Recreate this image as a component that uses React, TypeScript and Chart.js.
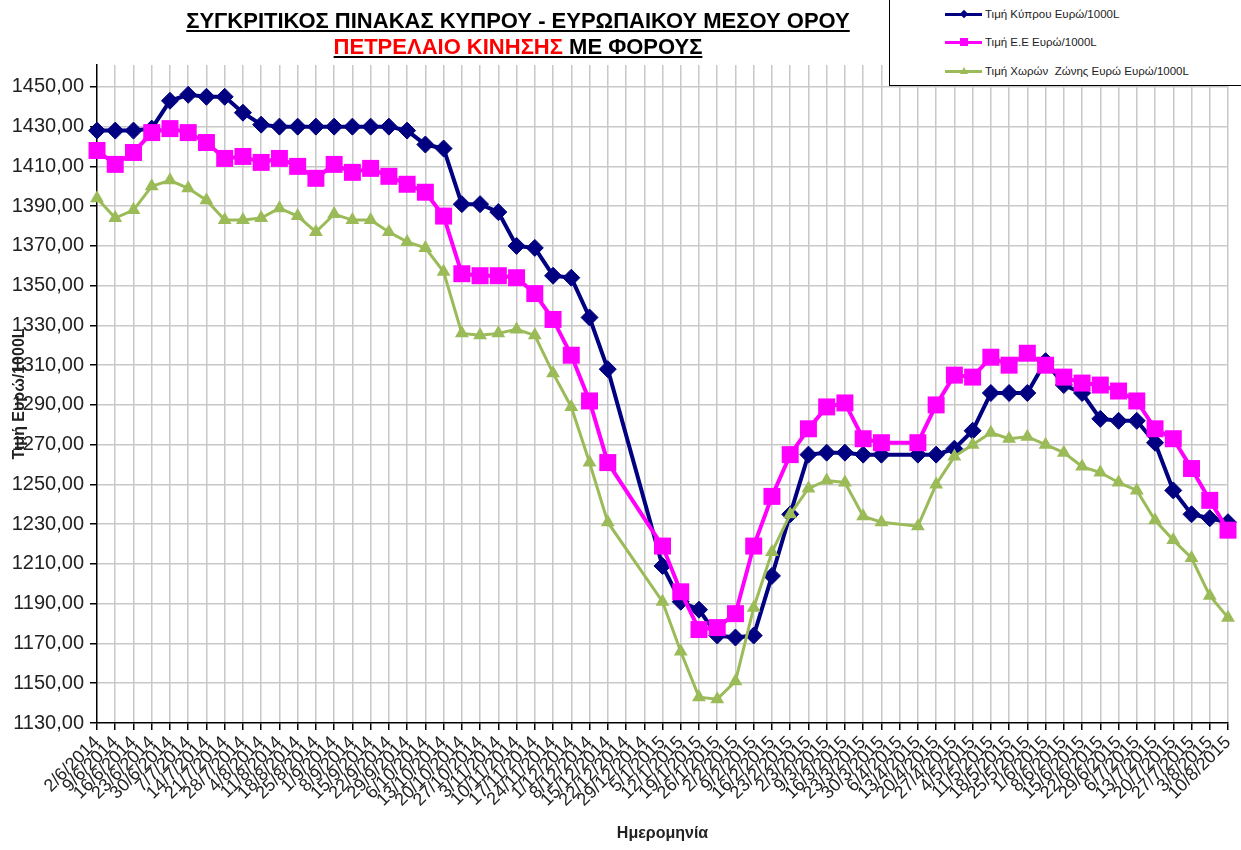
import React, { useEffect, useRef } from 'react';
import { Chart, registerables } from 'chart.js';

Chart.register(...registerables);

const dates = [
  '2/6/2014', '9/6/2014', '16/6/2014', '23/6/2014', '30/6/2014', '7/7/2014', '14/7/2014', '21/7/2014',
  '28/7/2014', '4/8/2014', '11/8/2014', '18/8/2014', '25/8/2014', '1/9/2014', '8/9/2014', '15/9/2014',
  '22/9/2014', '29/9/2014', '6/10/2014', '13/10/2014', '20/10/2014', '27/10/2014', '3/11/2014', '10/11/2014',
  '17/11/2014', '24/11/2014', '1/12/2014', '8/12/2014', '15/12/2014', '22/12/2014', '29/12/2014', '5/1/2015',
  '12/1/2015', '19/1/2015', '26/1/2015', '2/2/2015', '9/2/2015', '16/2/2015', '23/2/2015', '2/3/2015',
  '9/3/2015', '16/3/2015', '23/3/2015', '30/3/2015', '6/4/2015', '13/4/2015', '20/4/2015', '27/4/2015',
  '4/5/2015', '11/5/2015', '18/5/2015', '25/5/2015', '1/6/2015', '8/6/2015', '15/6/2015', '22/6/2015',
  '29/6/2015', '6/7/2015', '13/7/2015', '20/7/2015', '27/7/2015', '3/8/2015', '10/8/2015',
];

const cyprus = [
  1428, 1428, 1428, 1429, 1443, 1446, 1445, 1445,
  1437, 1431, 1430, 1430, 1430, 1430, 1430, 1430,
  1430, 1428, 1421, 1419, 1391, 1391, 1387, 1370,
  1369, 1355, 1354, 1334, 1308, null, null, 1209,
  1191, 1187, 1174, 1173, 1174, 1204, 1235, 1265,
  1266, 1266, 1265, 1265, null, 1265, 1265, 1268,
  1277, 1296, 1296, 1296, 1312, 1300, 1296, 1283,
  1282, 1282, 1271, 1247, 1235, 1233, 1231,
];

const eu = [
  1418, 1411, 1417, 1427, 1429, 1427, 1422, 1414,
  1415, 1412, 1414, 1410, 1404, 1411, 1407, 1409,
  1405, 1401, 1397, 1385, 1356, 1355, 1355, 1354,
  1346, 1333, 1315, 1292, 1261, null, null, 1219,
  1196, 1177, 1178, 1185, 1219, 1244, 1265, 1278,
  1289, 1291, 1273, 1271, null, 1271, 1290, 1305,
  1304, 1314, 1310, 1316, 1310, 1304, 1301, 1300,
  1297, 1292, 1278, 1273, 1258, 1242, 1227,
];

const euroZone = [
  1394, 1384, 1388, 1400, 1403, 1399, 1393, 1383,
  1383, 1384, 1389, 1385, 1377, 1386, 1383, 1383,
  1377, 1372, 1369, 1357, 1326, 1325, 1326, 1328,
  1325, 1306, 1289, 1261, 1231, null, null, 1191,
  1166, 1143, 1142, 1151, 1188, 1216, 1235, 1248,
  1252, 1251, 1234, 1231, null, 1229, 1250, 1264,
  1270, 1276, 1273, 1274, 1270, 1266, 1259, 1256,
  1251, 1247, 1232, 1222, 1213, 1194, 1183,
];

const yTicks = [1130, 1150, 1170, 1190, 1210, 1230, 1250, 1270, 1290, 1310, 1330, 1350, 1370, 1390, 1410, 1430, 1450];
const Y_MIN = 1130;
const Y_MAX = 1461;

const seriesNames = ['Τιμή Κύπρου Ευρώ/1000L', 'Τιμή Ε.Ε Ευρώ/1000L', 'Τιμή Χωρών  Ζώνης Ευρώ Ευρώ/1000L'];
const NAVY = '#000080';
const MAGENTA = '#FF00FF';
const GREEN = '#9BBB59';
const FONT = '"Liberation Sans", Arial, sans-serif';
const GRID = '#c8c8c8';

export default function App() {
  const ref = useRef<HTMLCanvasElement>(null);

  useEffect(() => {
    const chart = new Chart(ref.current as HTMLCanvasElement, {
      type: 'line',
      data: {
        labels: dates,
        datasets: [
          {
            label: seriesNames[0],
            data: cyprus,
            borderColor: NAVY,
            backgroundColor: NAVY,
            borderWidth: 4,
            pointStyle: 'rectRot',
            pointRadius: 8.5,
            pointBorderWidth: 1,
            pointBorderColor: NAVY,
            pointBackgroundColor: NAVY,
            spanGaps: true,
            tension: 0,
            order: 2,
          },
          {
            label: seriesNames[1],
            data: eu,
            borderColor: MAGENTA,
            backgroundColor: MAGENTA,
            borderWidth: 4,
            pointStyle: 'rect',
            pointRadius: 12,
            pointBorderWidth: 0,
            pointBackgroundColor: MAGENTA,
            spanGaps: true,
            tension: 0,
            order: 1,
          },
          {
            label: seriesNames[2],
            data: euroZone,
            borderColor: GREEN,
            backgroundColor: GREEN,
            borderWidth: 3,
            pointStyle: 'triangle',
            pointRadius: 8,
            pointBorderWidth: 0,
            pointBackgroundColor: GREEN,
            spanGaps: true,
            tension: 0,
            order: 0,
          },
        ],
      },
      options: {
        animation: false,
        responsive: false,
        maintainAspectRatio: false,
        layout: { padding: { left: 0, right: 13, top: 65, bottom: 0 } },
        plugins: {
          legend: { display: false },
          title: { display: false },
          tooltip: { enabled: false },
        },
        scales: {
          x: {
            grid: {
              color: (ctx: any) => (ctx.index === 0 ? 'rgba(0,0,0,0)' : GRID),
              lineWidth: 1.5,
              tickColor: '#000',
              tickLength: 7,
            },
            border: { color: '#000', width: 1.5 },
            ticks: {
              autoSkip: false,
              maxRotation: 45,
              minRotation: 45,
              padding: 2,
              color: '#222',
              font: { family: FONT, size: 18 },
            },
            title: {
              display: true,
              text: 'Ημερομηνία',
              color: '#222',
              font: { family: FONT, size: 16, weight: 'bold' },
              padding: { top: 7, bottom: 7 },
            },
            afterFit: (s: any) => {
              s.height = 127;
              s.paddingLeft = 0;
              s.paddingRight = 0;
            },
          },
          y: {
            min: Y_MIN,
            max: Y_MAX,
            afterBuildTicks: (s: any) => {
              s.ticks = yTicks.map((v) => ({ value: v }));
            },
            grid: {
              color: (ctx: any) => (ctx.index === 0 ? 'rgba(0,0,0,0)' : GRID),
              lineWidth: 1.5,
              tickColor: '#000',
              tickLength: 7,
            },
            border: { color: '#000', width: 1.5 },
            ticks: {
              padding: 6,
              color: '#222',
              font: { family: FONT, size: 20 },
              callback: (v: any) => Number(v).toFixed(2).replace('.', ','),
            },
            title: {
              display: true,
              text: 'Τιμή Ευρώ/1000L',
              color: '#222',
              font: { family: FONT, size: 16, weight: 'bold' },
              padding: { top: 10, bottom: 10 },
            },
            afterFit: (s: any) => {
              s.width = 97;
            },
          },
        },
      },
    } as any);
    return () => chart.destroy();
  }, []);

  const legendItems = [
    { name: seriesNames[0], color: NAVY, marker: 'diamond', top: 14 },
    { name: seriesNames[1], color: MAGENTA, marker: 'square', top: 42 },
    { name: seriesNames[2], color: GREEN, marker: 'triangle', top: 71 },
  ];

  const markerEl = (kind: string, color: string) => {
    if (kind === 'diamond') {
      return <div style={{ width: 6, height: 6, background: color, transform: 'rotate(45deg)' }} />;
    }
    if (kind === 'square') {
      return <div style={{ width: 8, height: 8, background: color }} />;
    }
    return (
      <div
        style={{
          width: 0,
          height: 0,
          borderLeft: '4px solid transparent',
          borderRight: '4px solid transparent',
          borderBottom: `7px solid ${color}`,
        }}
      />
    );
  };

  return (
    <div style={{ position: 'absolute', left: 0, top: 0, width: 1241, height: 850, overflow: 'hidden', background: '#fff' }}>
      <canvas ref={ref} width={1241} height={850} style={{ position: 'absolute', left: 0, top: 0, width: 1241, height: 850 }} />
      <div
        style={{
          position: 'absolute',
          left: 0,
          top: 8,
          width: 1036,
          textAlign: 'center',
          fontFamily: FONT,
          fontWeight: 'bold',
          fontSize: 22,
          lineHeight: '26px',
          color: '#000',
          textDecoration: 'underline',
          textDecorationThickness: '2px',
          textUnderlineOffset: '2px',
        }}
      >
        <div>ΣΥΓΚΡΙΤΙΚΟΣ ΠΙΝΑΚΑΣ ΚΥΠΡΟΥ - ΕΥΡΩΠΑΙΚΟΥ ΜΕΣΟΥ ΟΡΟΥ</div>
        <div>
          <span style={{ color: '#FF0000' }}>ΠΕΤΡΕΛΑΙΟ ΚΙΝΗΣΗΣ</span>
          <span> ΜΕ ΦΟΡΟΥΣ</span>
        </div>
      </div>
      <div
        style={{
          position: 'absolute',
          left: 889,
          top: -4,
          width: 400,
          height: 90,
          border: '1.5px solid #000',
          background: '#fff',
          boxSizing: 'border-box',
        }}
      />
      {legendItems.map((it) => (
        <div
          key={it.name}
          style={{ position: 'absolute', left: 945, top: it.top - 8, height: 16, display: 'flex', alignItems: 'center' }}
        >
          <div style={{ position: 'relative', width: 37, height: 16 }}>
            <div style={{ position: 'absolute', left: 0, top: 6.5, width: 37, height: 3, background: it.color }} />
            <div style={{ position: 'absolute', left: 14, top: 3, width: 9, height: 9, display: 'flex', alignItems: 'center', justifyContent: 'center' }}>
              {markerEl(it.marker, it.color)}
            </div>
          </div>
          <div style={{ marginLeft: 3, fontFamily: FONT, fontSize: 11.5, color: '#222', whiteSpace: 'pre' }}>{it.name}</div>
        </div>
      ))}
    </div>
  );
}
